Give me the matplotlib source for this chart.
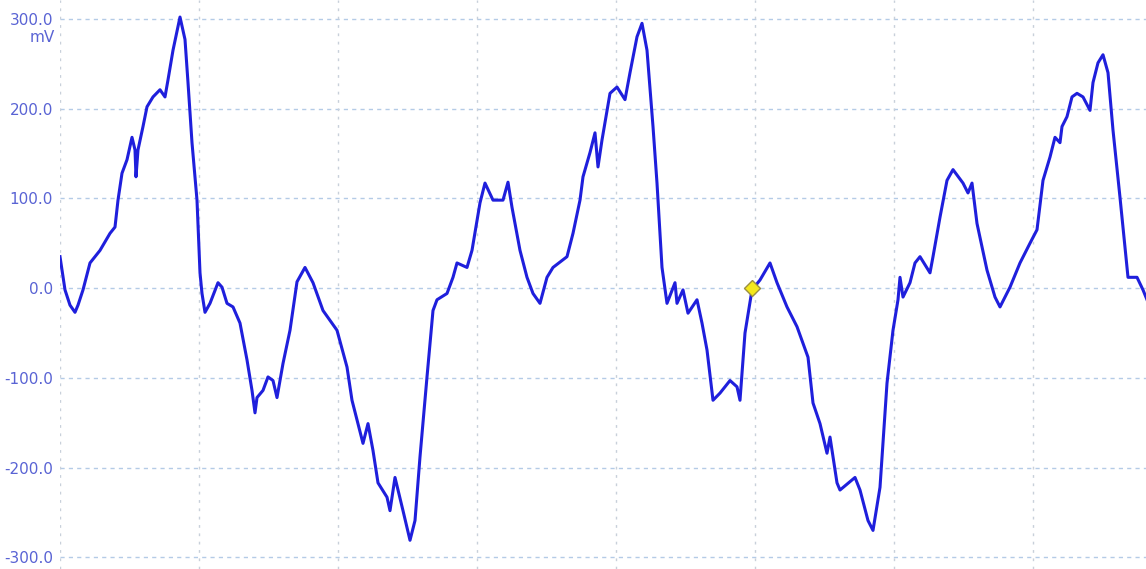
import matplotlib
matplotlib.use("Agg")
import matplotlib.pyplot as plt

# sample index (time) and voltage in mV
samples = [0, 5, 10, 15, 18, 23, 30, 40, 50, 55, 58, 62, 67, 72, 75, 76, 78, 83, 87, 93,
           100, 105, 108, 113, 120, 125, 128, 132, 137, 140, 142, 145, 150, 158, 162, 167, 173, 180, 187, 192,
           195, 197, 203, 208, 213, 217, 223, 230, 237, 245, 253, 263, 277, 287, 292, 303, 308, 313, 318, 327,
           330, 335, 343, 350, 355, 360, 367, 373, 377, 387, 393, 397, 407, 412, 420, 425, 433, 443, 448, 452,
           460, 467, 473, 480, 487, 493, 507, 513, 520, 523, 530, 535, 538, 542, 550, 557, 565, 570, 577, 582,
           587, 593, 597, 602, 607, 615, 617, 623, 628, 637, 642, 647, 653, 660, 670, 677, 680, 685, 692, 700,
           710, 717, 727, 737, 748, 753, 760, 767, 770, 777, 780, 795, 800, 808, 813, 820, 827, 833, 838, 840,
           843, 850, 855, 860, 870, 873, 880, 887, 893, 903, 908, 912, 917, 927, 935, 940, 950, 960, 970, 977,
           983, 990, 995, 1000, 1002, 1007, 1012, 1017, 1023, 1030, 1033, 1038, 1043, 1048, 1053, 1060, 1068, 1077, 1083, 1087]
voltage_mv = [35, -2, -19, -27, -19, -2, 28, 42, 61, 68, 98, 128, 143, 168, 154, 124, 154, 180, 202, 213,
              221, 213, 232, 265, 302, 277, 229, 162, 98, 17, -6, -27, -17, 6, 1, -17, -21, -39, -80, -114,
              -139, -122, -114, -99, -103, -122, -84, -47, 7, 23, 6, -25, -47, -88, -125, -173, -151, -181, -217, -233,
              -248, -211, -248, -281, -259, -188, -99, -25, -13, -6, 12, 28, 23, 42, 95, 117, 98, 98, 118, 90,
              42, 12, -6, -17, 12, 23, 35, 61, 98, 124, 151, 173, 135, 165, 217, 224, 210, 240, 280, 295,
              265, 180, 117, 23, -17, 6, -17, -2, -28, -13, -39, -69, -125, -117, -103, -110, -125, -50, -2, 9,
              28, 6, -21, -43, -77, -128, -151, -184, -166, -217, -225, -211, -225, -259, -270, -222, -106, -47, -13, 12,
              -10, 6, 28, 35, 17, 35, 79, 120, 132, 117, 106, 117, 72, 20, -10, -21, 1, 28, 50, 65,
              120, 146, 168, 162, 180, 191, 213, 217, 213, 198, 229, 251, 260, 240, 176, 101, 12, 12, -2, -13]

y_ticks = [300, 200, 100, 0, -100, -200, -300]
y_tick_labels = ["300.0", "200.0", "100.0", "0.0", "-100.0", "-200.0", "-300.0"]
x_grid = [0, 139, 278, 417, 556, 695, 834, 973]
y_unit = "mV"
marker_sample = [692]
marker_mv = [0]

fig = plt.figure(figsize=(11.46, 5.69), dpi=100)
ax = fig.add_axes([60 / 1146, 0, 1086 / 1146, 1])
ax.set_xlim(0, 1086)
ax.set_ylim(-313, 321)

for y in y_ticks:
    ax.axhline(y, color="#b4cbe6", lw=1.0, ls=(0, (3, 3)), zorder=1)
for x in x_grid:
    ax.axvline(x, color="#c8d0da", lw=1.0, ls=(0, (2, 4)), zorder=1)

ax.plot(samples, voltage_mv, color="#1f1fdc", lw=2.2, zorder=3, solid_joinstyle="round")
ax.plot(marker_sample, marker_mv, marker="D", ms=8, mfc="#f4e81c", mec="#9c9040",
        mew=1.0, ls="none", zorder=4)

for s in ax.spines.values():
    s.set_visible(False)
ax.set_xticks([])
ax.set_yticks(y_ticks)
ax.set_yticklabels(y_tick_labels)
ax.tick_params(axis="y", length=0, pad=5, labelcolor="#5963d4", labelsize=11)
ax.text(-5, 300 - 21, y_unit, transform=ax.transData, ha="right", va="center",
        color="#5963d4", fontsize=11, clip_on=False)

fig.savefig("out.png", dpi=100)
